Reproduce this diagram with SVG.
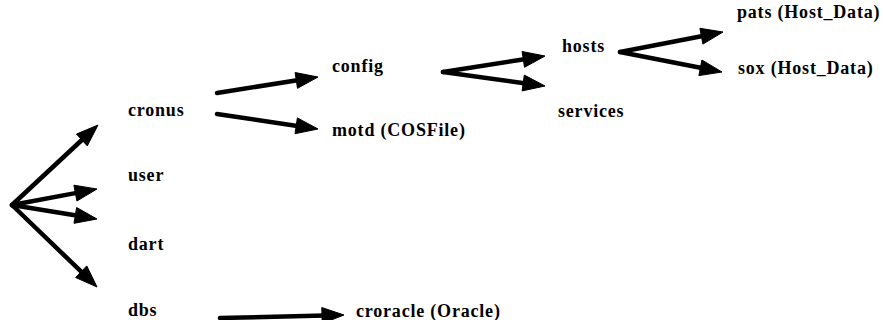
<svg xmlns="http://www.w3.org/2000/svg" width="886" height="320" viewBox="0 0 886 320">
<style>
text{font-family:"Liberation Serif","Times New Roman",serif;font-weight:bold;font-size:18px;fill:#000;letter-spacing:0.8px}
.c line{stroke:#000;stroke-width:4.5;stroke-linecap:round}
.c polygon{fill:#000;stroke:#000;stroke-width:1;stroke-linejoin:round}
</style>
<rect width="886" height="320" fill="#fff"/>
<g class="c" id="connectors">
<line x1="12" y1="205" x2="84" y2="138"/><polygon points="98,125 87.3,145.9 76.5,134.1"/>
<line x1="12" y1="205" x2="78" y2="192.6"/><polygon points="97,189 76.9,201 73.9,185.2"/>
<line x1="12" y1="205" x2="78" y2="215.8"/><polygon points="97,219 74,223.3 76.6,207.5"/>
<line x1="12" y1="205" x2="83" y2="273.4"/><polygon points="97,287 75.6,277.5 86.8,265.9"/>
<line x1="217" y1="93" x2="299" y2="80"/><polygon points="318,77 297.5,88.3 295.1,72.5"/>
<line x1="217" y1="114" x2="299" y2="126.2"/><polygon points="318,129 295,133.7 297.4,117.9"/>
<line x1="443" y1="72" x2="526" y2="59"/><polygon points="545,56 524.5,67.3 522.1,51.5"/>
<line x1="443" y1="72" x2="526" y2="83.4"/><polygon points="545,86 522.1,90.9 524.3,75.1"/>
<line x1="620" y1="52" x2="704" y2="35.7"/><polygon points="723,32 702.9,44.1 699.9,28.3"/>
<line x1="620" y1="52" x2="703" y2="68.3"/><polygon points="722,72 698.9,75.6 701.9,60"/>
<line x1="220" y1="318" x2="325" y2="315.5"/><polygon points="344,315 322.2,323.5 321.8,307.5"/>
</g>
<g id="n-cronus"><text x="128" y="116">cronus</text></g>
<g id="n-user"><text x="128" y="181">user</text></g>
<g id="n-dart"><text x="128" y="250">dart</text></g>
<g id="n-dbs"><text x="128" y="316">dbs</text></g>
<g id="n-config"><text x="332" y="72">config</text></g>
<g id="n-motd"><text x="332" y="136">motd (COSFile)</text></g>
<g id="n-hosts"><text x="562" y="52">hosts</text></g>
<g id="n-services"><text x="558" y="117">services</text></g>
<g id="n-pats"><text x="737" y="18">pats (Host_Data)</text></g>
<g id="n-sox"><text x="738" y="74">sox (Host_Data)</text></g>
<g id="n-croracle"><text x="356" y="317">croracle (Oracle)</text></g>
</svg>
